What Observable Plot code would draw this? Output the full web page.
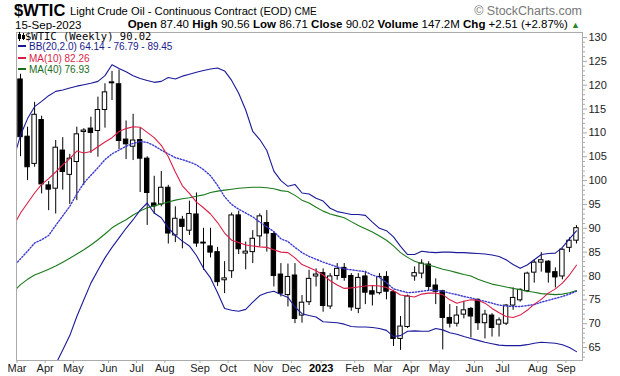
<!DOCTYPE html>
<html><head><meta charset="utf-8">
<script src="https://cdn.jsdelivr.net/npm/d3@7"></script>
<script src="https://cdn.jsdelivr.net/npm/@observablehq/plot@0.6"></script>
<style>
body{margin:0;background:#fff;font-family:"Liberation Sans",Arial,sans-serif;}
#wrap{position:relative;width:620px;height:376px;overflow:hidden;background:#fff}
.t{position:absolute;white-space:nowrap;line-height:1}
#chart{position:absolute;left:0;top:30px}
b{font-weight:bold}
.dash{display:inline-block;width:8px;height:2px;vertical-align:3px;margin-right:3px}
</style></head><body>
<div id="wrap">
  <div class="t" style="left:14px;top:2px;font-size:16.5px;font-weight:bold;color:#000">$WTIC</div>
  <div class="t" style="left:70px;top:6px;font-size:11.2px;color:#000">Light Crude Oil - Continuous Contract (EOD) <span style="font-size:10px">CME</span></div>
  <div class="t" style="right:38px;top:5px;font-size:12.5px;color:#777">© StockCharts.com</div>
  <div class="t" style="left:15px;top:19.5px;font-size:11.5px;color:#000">15-Sep-2023</div>
  <div class="t" style="right:40px;top:19px;font-size:11.5px;color:#000"><b>Open</b> 87.40 <b>High</b> 90.56 <b>Low</b> 86.71 <b>Close</b> 90.02 <b>Volume</b> 147.2M <b>Chg</b> +2.51 (+2.87%) <span style="color:#2a8a2a;font-size:9px">▲</span></div>
  <div id="chart"></div>
  <div class="t" style="left:18px;top:31px;font-family:'DejaVu Sans Mono',monospace;font-size:10.5px;color:#000">
    <svg width="7" height="9" style="vertical-align:-1px"><line x1="1.5" y1="0" x2="1.5" y2="9" stroke="#000"/><rect x="0" y="2" width="3" height="5" fill="#000"/><line x1="5.5" y1="1" x2="5.5" y2="8" stroke="#000"/><rect x="4" y="3" width="3" height="4" fill="#000"/></svg>$WTIC (Weekly) 90.02</div>
  <div class="t" style="left:18px;top:42px;font-size:10px;color:#1a1a8c"><span class="dash" style="background:#1a1a8c"></span>BB(20,2.0) 64.14 - 76.79 - 89.45</div>
  <div class="t" style="left:18px;top:53.5px;font-size:10px;color:#d81e46"><span class="dash" style="background:#d81e46"></span>MA(10) 82.26</div>
  <div class="t" style="left:18px;top:65px;font-size:10px;color:#1a6e1a"><span class="dash" style="background:#1a6e1a"></span>MA(40) 76.93</div>
</div>
<script>
// weekly candles, week ending Fri 2022-03-11 ... 2023-09-15
const firstWeek = new Date(2022, 2, 11);
const open  = [121.2,109.2,103.5,112.7,99.0,98.3,106.3,101.2,103.9,110.2,110.9,110.4,114.8,120.4,120.2,108.6,107.1,108.5,104.6,95.2,95.0,98.5,88.5,91.8,89.5,92.9,87.0,86.2,85.0,79.1,81.0,92.7,84.7,85.0,88.3,91.1,88.8,80.3,76.0,80.1,71.7,74.5,79.9,80.6,73.6,80.0,81.7,80.0,73.1,79.9,76.8,76.4,79.8,76.6,66.8,69.3,79.9,80.5,82.4,78.0,76.8,71.2,70.0,71.9,73.1,75.0,70.1,71.7,69.8,70.0,73.8,74.9,76.8,80.7,82.8,83.0,80.8,79.9,85.9,87.40];
const high  = [122.3,111.2,116.4,113.5,99.8,108.4,109.0,105.5,111.2,110.9,113.3,117.5,120.3,122.9,123.2,112.5,113.9,111.0,105.0,100.9,101.9,99.0,94.5,92.5,95.7,97.4,90.0,90.0,86.0,83.0,93.2,93.6,87.1,89.5,93.0,93.7,89.2,82.6,82.5,82.6,75.9,81.2,81.5,81.5,80.5,82.6,82.6,80.5,80.5,81.0,78.0,80.5,80.9,77.0,71.5,76.0,81.9,83.4,83.0,79.4,77.0,74.0,73.6,74.7,73.4,75.2,72.8,72.1,71.2,74.0,77.5,77.3,80.8,83.3,84.9,83.2,81.7,85.7,88.0,90.56];
const low   = [105.0,100.0,102.8,97.2,93.7,93.0,98.0,95.0,95.8,99.0,105.7,104.9,111.0,116.8,106.5,104.4,104.2,97.5,90.6,92.9,94.5,86.7,87.0,85.7,88.5,86.0,81.2,83.8,77.8,76.3,79.5,84.5,81.3,82.6,86.1,85.0,77.7,75.6,73.5,70.0,70.1,73.8,77.7,72.4,73.0,79.1,78.9,72.6,72.1,74.0,73.7,76.0,75.0,65.2,64.4,69.0,78.9,79.4,76.8,74.0,64.5,69.1,69.3,71.0,67.0,68.6,66.8,67.2,67.2,69.6,72.8,74.5,76.5,78.5,80.8,78.5,77.5,79.2,84.9,86.71];
const close = [109.1,102.8,113.8,99.2,98.1,106.9,101.8,104.6,109.7,110.5,110.0,114.8,118.5,120.6,108.3,107.6,108.4,104.6,97.4,94.6,98.5,88.9,92.0,90.3,93.0,86.8,86.8,84.9,78.7,79.5,92.7,85.6,85.1,87.8,92.5,88.9,80.0,76.3,79.8,71.0,74.4,79.4,80.3,73.7,79.9,81.5,79.6,73.4,79.6,76.5,76.1,79.8,76.7,66.8,69.4,75.7,80.6,82.6,77.7,76.7,71.2,70.0,71.7,72.8,71.5,70.1,71.9,69.1,70.7,73.8,75.4,77.1,80.5,82.8,83.3,80.7,79.7,85.5,87.4,90.02];
// indicator readings, from one week before the first candle onwards
const bbUpper = [104.5,109.5,113,115.5,116.6,117.8,118.7,119,119.4,119.8,120.1,120.4,120.8,122,124.3,123.5,122.8,122,121.4,121.0,120.6,120.8,121.6,121.3,121.9,122.3,122.7,123.1,123.4,123.6,123,121,118.3,114.8,110.3,108.6,106.3,102,100,98.8,99.2,97.4,97.2,96.3,95.7,94.2,93.5,93.2,92.9,92.9,92.7,91.3,90.0,89.5,88.2,86.2,84.5,84.5,85.2,85.0,84.9,85,85,84.9,84.9,84.8,84.7,84.6,84.4,84.1,83.4,82.4,81.6,82.3,83.4,84.5,84.7,84.8,86.0,87.8,89.45];
const bbMid   = [82,83.6,85.2,86.9,87.6,88.5,90.6,92.6,94.6,97.2,99.5,101.1,102.7,104.4,105.6,106.4,107.2,107.8,108.2,108,107.3,106.4,105.6,104.8,104.4,103.9,103.3,102.3,101.0,99,96.6,95,94,93.2,92.4,91.3,90.3,89.3,87.8,87.2,86,84.9,84.1,83.5,82.9,82.4,81.9,81.5,81.3,81.1,80.9,80.2,79.7,78.6,77.3,76.9,76.5,76.6,76.8,77,77,76.8,76.4,76.1,75.7,75.4,75,74.7,74.3,73.9,73.7,73.6,73.6,73.8,74,74.5,74.9,75.3,75.7,76.2,76.79];
const bbLower = [50,52,54.5,56.5,58.5,60,61.5,64.5,67.5,71.5,75,78.5,81.2,83.8,86,88,90,91.8,93.8,95.3,93.2,92.2,90.1,88.5,87.3,86.3,84.3,81.6,79.6,76.5,73.2,72.8,72.6,73,74.5,75.9,76.5,76.8,76.1,75.5,73.5,72.1,71.7,71.4,70.4,70.3,70.2,69.9,69.4,69.3,69.3,69.2,69.0,68.6,67.3,67.5,68.4,68.5,68.4,68.4,69.0,68.7,68.1,67.8,67.3,66.9,66.5,66.1,65.8,65.5,65.4,65.4,65.4,65.6,65.9,66.1,66.0,65.9,65.6,65.0,64.14];
const ma10    = [90.5,93.2,95.3,97.4,99.2,100.4,101.8,103.3,104.6,106.2,105.8,106.1,107.1,108.1,109,110.3,110.9,111.3,111.2,110.1,109,107.4,105,101.8,98.9,97.3,95.5,94.3,93,91.2,89,87.5,87,86.5,86.3,86.1,86,85.5,85,84.9,83.8,82.4,81.8,81.1,80.2,79,78.1,77.4,77.5,77.7,77.9,78,77.9,77.6,76.9,76.0,75.8,75.6,76.2,76.4,76.4,76.1,75.0,74.3,74.7,75,74.9,74.3,73.2,72.3,71.5,71.3,71.8,72.8,74.1,75.1,76.4,77.3,78.5,80.2,82.26];
const ma40    = [76.7,78.2,79.3,80.2,80.8,81.4,82.1,82.9,83.7,84.6,85.5,86.5,87.6,88.8,90.1,91,91.8,92.8,93.6,94.3,94.7,95.1,95.5,95.9,96.2,96.4,96.7,97.0,97.5,97.8,98,98.2,98.4,98.5,98.6,98.6,98.5,98.3,97.9,97.7,96.9,95.9,95.3,94.4,93.6,93,92.6,92.2,91.4,90.6,89.9,89.2,88.4,87.5,86.3,84.9,83.9,83.1,82.6,82.3,81.9,81.4,81.1,80.7,80.3,80,79.3,78.8,78.3,78,77.7,77.4,77.1,76.8,76.6,76.3,76.2,76.1,76.2,76.5,76.93];
// axis labels
const monthBars   = [0,4,8,13,17,21,26,30,35,39,43,48,52,56,60,65,69,74,78];
const monthLabels = ["Mar","Apr","May","Jun","Jul","Aug","Sep","Oct","Nov","Dec","2023","Feb","Mar","Apr","May","Jun","Jul","Aug","Sep"];
const yTicks = [65,70,75,80,85,90,95,100,105,110,115,120,125,130];

const weekDate = i => d3.timeDay.offset(firstWeek, 7 * i);
const candles = close.map((c, i) => ({date: weekDate(i), o: open[i], h: high[i], l: low[i], c}));
const ind = bbUpper.map((u, k) => ({date: weekDate(k - 1), u, m: bbMid[k], lo: bbLower[k], ma10: ma10[k], ma40: ma40[k]}));
const half = 2.2 * 864e5;
const tickDates = monthBars.map(weekDate);
const labelOf = new Map(tickDates.map((d, i) => [+d, monthLabels[i]]));
const yMinor = d3.range(63, 131).filter(v => v % 5 !== 0);

const chart = Plot.plot({
  width: 620, height: 346,
  marginTop: 2, marginBottom: 16, marginLeft: 16, marginRight: 38,
  x: {type: "time", domain: [new Date(2022, 2, 7), new Date(2023, 8, 21)]},
  y: {domain: [62.28, 131.05]},
  style: {fontFamily: "'Liberation Sans', Arial, sans-serif", fontSize: "11px", background: "#fff", color: "#222"},
  marks: [
    Plot.axisY({anchor: "right", ticks: yMinor, tickSize: 2, tickFormat: () => "", stroke: "#aaa"}),
    Plot.axisY({anchor: "right", ticks: yTicks, tickSize: 4, tickPadding: 2, stroke: "#aaa", fill: "#222", fontSize: 11}),
    Plot.axisX({ticks: tickDates.filter(d => labelOf.get(+d) !== "2023"), tickFormat: d => labelOf.get(+d), tickSize: 3, tickPadding: 1, stroke: "#aaa", fill: "#222", dx: -3.5, fontSize: 11}),
    Plot.axisX({ticks: tickDates.filter(d => labelOf.get(+d) === "2023"), tickFormat: d => labelOf.get(+d), tickSize: 3, tickPadding: 1, stroke: "#aaa", fill: "#000", dx: -2, fontSize: 11, fontWeight: "bold"}),
    Plot.ruleX(candles, {x: "date", y1: "l", y2: "h", stroke: "#000", strokeWidth: 1, clip: true}),
    Plot.rect(candles, {x1: d => new Date(+d.date - half), x2: d => new Date(+d.date + half), y1: "o", y2: "c", fill: d => d.c >= d.o ? "#fff" : "#000", stroke: "#000", strokeWidth: 1}),
    Plot.line(ind, {x: "date", y: "ma40", stroke: "#1a7a1a", strokeWidth: 1.1, clip: true}),
    Plot.line(ind, {x: "date", y: "m", stroke: "#3a3ad0", strokeWidth: 1.4, strokeDasharray: "1.3,1.8", clip: true}),
    Plot.line(ind, {x: "date", y: "u", stroke: "#1a1a9a", strokeWidth: 1.1, clip: true}),
    Plot.line(ind, {x: "date", y: "lo", stroke: "#1a1a9a", strokeWidth: 1.1, clip: true}),
    Plot.line(ind, {x: "date", y: "ma10", stroke: "#dc1e46", strokeWidth: 1.1, clip: true}),
    Plot.frame({stroke: "#aaa"})
  ]
});
document.getElementById("chart").append(chart);
</script>
</body></html>
